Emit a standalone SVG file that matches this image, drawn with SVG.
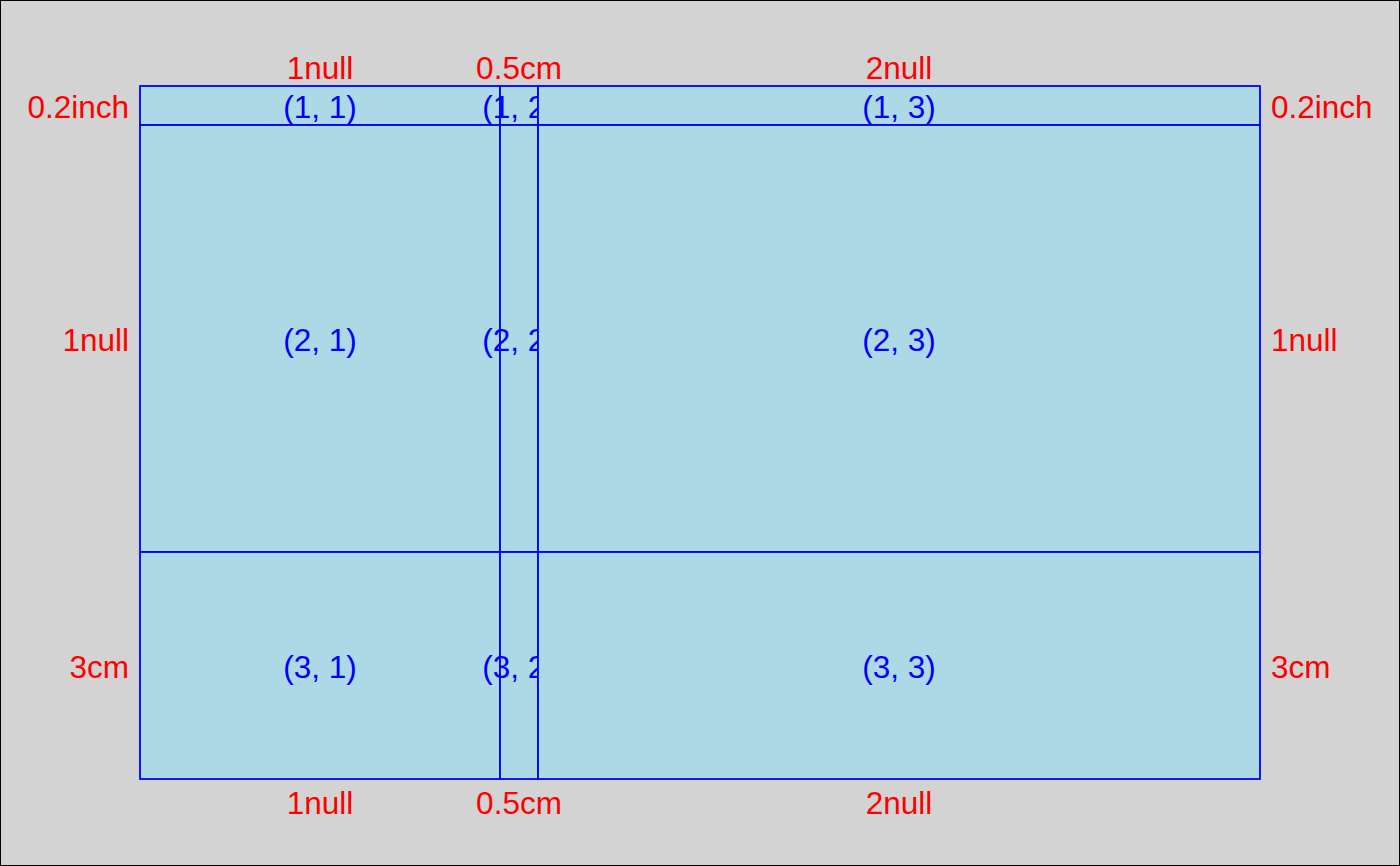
<svg xmlns="http://www.w3.org/2000/svg" width="1400" height="866" viewBox="0 0 1400 866">
<style>
.cell{fill:#add8e6;stroke:#0000ff;stroke-width:1.8}
.ct{font-family:"Liberation Sans",Arial,sans-serif;font-size:31.5px;fill:#0000ff;text-anchor:middle;dominant-baseline:central}
.lab{font-family:"Liberation Sans",Arial,sans-serif;font-size:31.5px;fill:#ff0000;dominant-baseline:central}
.m{text-anchor:middle}.e{text-anchor:end}.s{text-anchor:start}
</style>
<rect x="0.5" y="0.5" width="1399" height="865" fill="#d3d3d3" stroke="#000000" stroke-width="1"/>
<g id="cell-1-1"><rect class="cell" x="140" y="86" width="360" height="39"/><text class="ct" x="320" y="107">(1, 1)</text></g>
<g id="cell-1-2"><rect class="cell" x="500" y="86" width="38" height="39"/><text class="ct" x="519" y="107">(1, 2)</text></g>
<g id="cell-1-3"><rect class="cell" x="538" y="86" width="722" height="39"/><text class="ct" x="899" y="107">(1, 3)</text></g>
<g id="cell-2-1"><rect class="cell" x="140" y="125" width="360" height="427"/><text class="ct" x="320" y="340">(2, 1)</text></g>
<g id="cell-2-2"><rect class="cell" x="500" y="125" width="38" height="427"/><text class="ct" x="519" y="340">(2, 2)</text></g>
<g id="cell-2-3"><rect class="cell" x="538" y="125" width="722" height="427"/><text class="ct" x="899" y="340">(2, 3)</text></g>
<g id="cell-3-1"><rect class="cell" x="140" y="552" width="360" height="227"/><text class="ct" x="320" y="667">(3, 1)</text></g>
<g id="cell-3-2"><rect class="cell" x="500" y="552" width="38" height="227"/><text class="ct" x="519" y="667">(3, 2)</text></g>
<g id="cell-3-3"><rect class="cell" x="538" y="552" width="722" height="227"/><text class="ct" x="899" y="667">(3, 3)</text></g>
<g id="labels">
<text class="lab m" x="320" y="67.5">1null</text>
<text class="lab m" x="519" y="67.5">0.5cm</text>
<text class="lab m" x="899" y="67.5">2null</text>
<text class="lab m" x="320" y="802.5">1null</text>
<text class="lab m" x="519" y="802.5">0.5cm</text>
<text class="lab m" x="899" y="802.5">2null</text>
<text class="lab e" x="129" y="107">0.2inch</text>
<text class="lab e" x="129" y="340">1null</text>
<text class="lab e" x="129" y="667">3cm</text>
<text class="lab s" x="1271" y="107">0.2inch</text>
<text class="lab s" x="1271" y="340">1null</text>
<text class="lab s" x="1271" y="667">3cm</text>
</g>
</svg>
